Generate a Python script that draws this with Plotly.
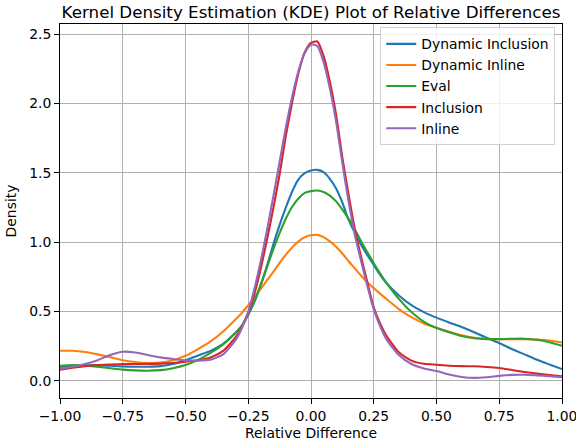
import plotly.graph_objects as go

# ---- data ----
x_vals = [-1.0, -0.95, -0.9, -0.85, -0.8, -0.75, -0.7, -0.65, -0.6, -0.55,
          -0.5, -0.45, -0.4, -0.35,
          -0.3, -0.275, -0.25, -0.225, -0.2, -0.175, -0.15, -0.125, -0.1, -0.075,
          -0.05, -0.025, 0.0, 0.025, 0.05, 0.075, 0.1, 0.125, 0.15, 0.175,
          0.2, 0.225, 0.25, 0.275, 0.3,
          0.35, 0.4, 0.45, 0.5, 0.55, 0.6, 0.65, 0.7, 0.75, 0.8, 0.85, 0.9, 0.95, 1.0]

dynamic_inclusion = [0.096, 0.105, 0.110, 0.112, 0.108, 0.103, 0.101, 0.101, 0.105, 0.120,
                     0.146, 0.182, 0.215, 0.265,
                     0.347, 0.395, 0.475, 0.570, 0.690, 0.830, 0.985, 1.125, 1.250, 1.365,
                     1.453, 1.498, 1.517, 1.521, 1.505, 1.457, 1.387, 1.285, 1.160, 1.065,
                     0.980, 0.905, 0.835, 0.765, 0.705,
                     0.615, 0.545, 0.495, 0.455, 0.420, 0.387, 0.350, 0.310, 0.272, 0.228,
                     0.190, 0.151, 0.117, 0.084]

dynamic_inline = [0.216, 0.216, 0.207, 0.190, 0.170, 0.148, 0.135, 0.128, 0.130, 0.148,
                  0.180, 0.228, 0.283, 0.355,
                  0.443, 0.490, 0.545, 0.600, 0.662, 0.725, 0.785, 0.850, 0.910, 0.962,
                  1.005, 1.035, 1.049, 1.052, 1.036, 1.005, 0.967, 0.918, 0.862, 0.810,
                  0.757, 0.708, 0.668, 0.628, 0.590,
                  0.517, 0.458, 0.413, 0.382, 0.353, 0.328, 0.310, 0.302, 0.300, 0.300,
                  0.299, 0.297, 0.290, 0.275]

eval_vals = [0.108, 0.112, 0.110, 0.100, 0.090, 0.080, 0.074, 0.072, 0.076, 0.090,
             0.113, 0.150, 0.200, 0.262,
             0.345, 0.400, 0.485, 0.580, 0.695, 0.820, 0.950, 1.065, 1.170, 1.255,
             1.315, 1.355, 1.368, 1.372, 1.362, 1.336, 1.294, 1.235, 1.168, 1.090,
             1.005, 0.925, 0.848, 0.775, 0.708,
             0.590, 0.495, 0.425, 0.380, 0.350, 0.322, 0.306, 0.300, 0.300, 0.302,
             0.303, 0.295, 0.278, 0.252]

inclusion = [0.079, 0.093, 0.105, 0.113, 0.117, 0.120, 0.120, 0.121, 0.123, 0.128,
             0.137, 0.148, 0.168, 0.215,
             0.315, 0.390, 0.490, 0.630, 0.810, 1.020, 1.245, 1.490, 1.770, 2.010,
             2.220, 2.370, 2.438, 2.448, 2.345, 2.160, 1.920, 1.610, 1.340, 1.090,
             0.890, 0.706, 0.530, 0.415, 0.326,
             0.205, 0.145, 0.122, 0.115, 0.108, 0.105, 0.104, 0.099, 0.091, 0.077,
             0.063, 0.051, 0.041, 0.031]

inline = [0.087, 0.100, 0.120, 0.148, 0.185, 0.209, 0.203, 0.185, 0.168, 0.156,
          0.146, 0.145, 0.152, 0.190,
          0.295, 0.380, 0.499, 0.665, 0.865, 1.090, 1.330, 1.580, 1.830, 2.050,
          2.235, 2.365, 2.425, 2.415, 2.300, 2.110, 1.870, 1.570, 1.290, 1.050,
          0.860, 0.680, 0.515, 0.395, 0.300,
          0.185, 0.120, 0.088, 0.070, 0.045, 0.027, 0.020, 0.025, 0.035, 0.042,
          0.043, 0.038, 0.032, 0.026]

series_names = ["Dynamic Inclusion", "Dynamic Inline", "Eval", "Inclusion", "Inline"]
series_colors = ["#1f77b4", "#ff7f0e", "#2ca02c", "#d62728", "#9467bd"]
series_values = [dynamic_inclusion, dynamic_inline, eval_vals, inclusion, inline]

x_tick_vals = [-1.0, -0.75, -0.5, -0.25, 0.0, 0.25, 0.5, 0.75, 1.0]
x_tick_text = ["\u22121.00", "\u22120.75", "\u22120.50", "\u22120.25", "0.00", "0.25", "0.50", "0.75", "1.00"]
y_tick_vals = [0.0, 0.5, 1.0, 1.5, 2.0, 2.5]
y_tick_text = ["0.0", "0.5", "1.0", "1.5", "2.0", "2.5"]

FONT = "DejaVu Sans"
FS = 13.9
TITLE_FS = 16.7

fig = go.Figure()
for name, color, vals in zip(series_names, series_colors, series_values):
    fig.add_trace(go.Scatter(
        x=x_vals, y=vals, mode="lines", name=name,
        line=dict(color=color, width=2.1, shape="spline", smoothing=0.6),
    ))

W, H = 576, 445
ml, mr, mt, mb = 60, 14.3, 24, 46.7

axis_common = dict(
    showline=True, linecolor="black", linewidth=1.1, mirror=True,
    ticks="outside", ticklen=4.9, tickwidth=1.1, tickcolor="black",
    showgrid=True, gridcolor="#b0b0b0", gridwidth=1.1,
    zeroline=False, tickfont=dict(family=FONT, size=FS, color="black"),
    ticklabeloverflow="allow",
)

fig.update_layout(
    width=W, height=H,
    margin=dict(l=ml, r=mr, t=mt, b=mb, autoexpand=False),
    paper_bgcolor="white", plot_bgcolor="white",
    font=dict(family=FONT, size=FS, color="black"),
    title=dict(text="Kernel Density Estimation (KDE) Plot of Relative Differences",
               font=dict(family=FONT, size=TITLE_FS, color="black"),
               x=0.5, xref="paper", xanchor="center",
               y=1 - 12.5 / H, yref="container", yanchor="middle"),
    xaxis=dict(range=[-1, 1], tickvals=x_tick_vals, ticktext=x_tick_text,
               title=dict(text="Relative Difference", standoff=5,
                          font=dict(family=FONT, size=FS, color="black")),
               **axis_common),
    yaxis=dict(range=[-0.125, 2.574], tickvals=y_tick_vals, ticktext=y_tick_text,
               title=dict(text="Density", standoff=9,
                          font=dict(family=FONT, size=FS, color="black")),
               **axis_common),
    legend=dict(x=0.9866, xanchor="right", y=0.991, yanchor="top",
                bgcolor="rgba(255,255,255,0.8)", bordercolor="#d0d0d0", borderwidth=1,
                font=dict(family=FONT, size=FS, color="black")),
    showlegend=True,
)

fig.write_html("out.html", config={"displayModeBar": False},
               post_script="document.body.style.margin='0';")
